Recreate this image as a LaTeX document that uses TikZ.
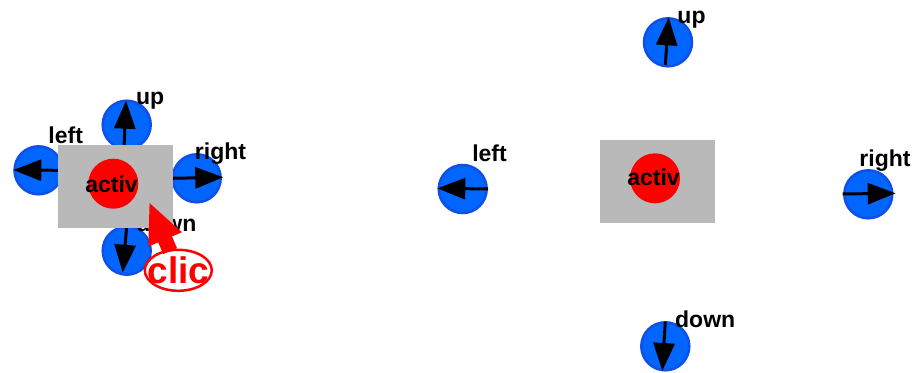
\documentclass[tikz,border=0pt]{standalone}
\usepackage{fontspec}
\setmainfont{Liberation Sans}
\usetikzlibrary{arrows.meta,shapes.geometric}
\definecolor{btnblue}{HTML}{0066FF}
\definecolor{btnline}{HTML}{1050E8}
\definecolor{zonegray}{HTML}{B9B9B9}

\begin{document}
\begin{tikzpicture}[x=1pt,y=-1pt,>={Triangle[length=28pt,width=21pt]},
    btn/.style={circle,draw=btnline,fill=btnblue,line width=2.5pt,minimum size=48pt,inner sep=0pt},
    zone/.style={fill=zonegray,minimum width=115pt,minimum height=82.7pt,inner sep=0pt},
    dot/.style={circle,fill=red,minimum size=50pt,inner sep=0pt},
    lbl/.style={inner sep=0pt,font=\fontsize{23}{23}\selectfont\bfseries},
    dir/.style={->,line width=3pt}]

    \useasboundingbox (0,0) rectangle (915,372);

    % left group
    \node[btn] (upa) at (126.7,124.7) {};
    \node[btn] (lefta) at (38.5,170.3) {};
    \node[btn] (righta) at (196.7,178.3) {};
    \node[btn] (downa) at (126.7,250.7) {};

    \node[lbl] (lupa) at (150.2,100.5) {up};
    \node[lbl] (llefta) at (65.7,135) {left};
    \node[lbl] (lrighta) at (220.5,153.5) {right};
    \node[lbl] (ldowna) at (166.3,223) {down};

    \coordinate (supa) at (124,147);
    \coordinate (tupa) at (126,100.7);
    \coordinate (slefta) at (60,170.3);
    \coordinate (tlefta) at (13.3,170);
    \coordinate (srighta) at (171,178.3);
    \coordinate (trighta) at (223.3,177.3);
    \coordinate (sdowna) at (126.7,226);
    \coordinate (tdowna) at (122.7,272.7);

    \draw[dir] (supa) to (tupa);
    \draw[dir] (slefta) to (tlefta);
    \draw[dir] (srighta) to (trighta);
    \draw[dir] (sdowna) to (tdowna);

    \node[zone] (zonea) at (115.5,186.4) {};
    \node[dot] (dota) at (113.3,183.7) {};
    \node[lbl] (activa) at (111.5,184) {activ};

    % clic
    \node[draw=red,fill=white,ellipse,line width=2.5pt,minimum width=67pt,minimum height=41pt,
        inner xsep=-8pt,inner ysep=-1pt,text=red,font=\fontsize{37}{37}\selectfont\bfseries] (clic) at (178.3,270.3) {clic};
    \coordinate (tclic) at (149,201.7);
    \draw[-{Triangle[length=41pt,width=33pt]},red,line width=15pt,shorten <=-2pt] (clic) to (tclic);

    % right group
    \node[btn] (upb) at (668,42.3) {};
    \node[btn] (leftb) at (462.7,189) {};
    \node[btn] (rightb) at (868.3,194.3) {};
    \node[btn] (downb) at (665.3,346.3) {};

    \node[lbl] (lupb) at (691.5,19.5) {up};
    \node[lbl] (lleftb) at (489.5,153.5) {left};
    \node[lbl] (lrightb) at (885,161) {right};
    \node[lbl] (ldownb) at (705.2,319.3) {down};

    \coordinate (supb) at (665.3,65);
    \coordinate (tupb) at (668.7,17.3);
    \coordinate (sleftb) at (488,189);
    \coordinate (tleftb) at (437.3,188.3);
    \coordinate (srightb) at (842.7,194);
    \coordinate (trightb) at (895.7,193.3);
    \coordinate (sdownb) at (665.3,321.7);
    \coordinate (tdownb) at (662.3,371);

    \draw[dir] (supb) to (tupb);
    \draw[dir] (sleftb) to (tleftb);
    \draw[dir] (srightb) to (trightb);
    \draw[dir] (sdownb) to (tdownb);

    \node[zone] (zoneb) at (657.5,181.4) {};
    \node[dot] (dotb) at (655,178.3) {};
    \node[lbl] (activb) at (653.5,177.7) {activ};
\end{tikzpicture}
\end{document}
